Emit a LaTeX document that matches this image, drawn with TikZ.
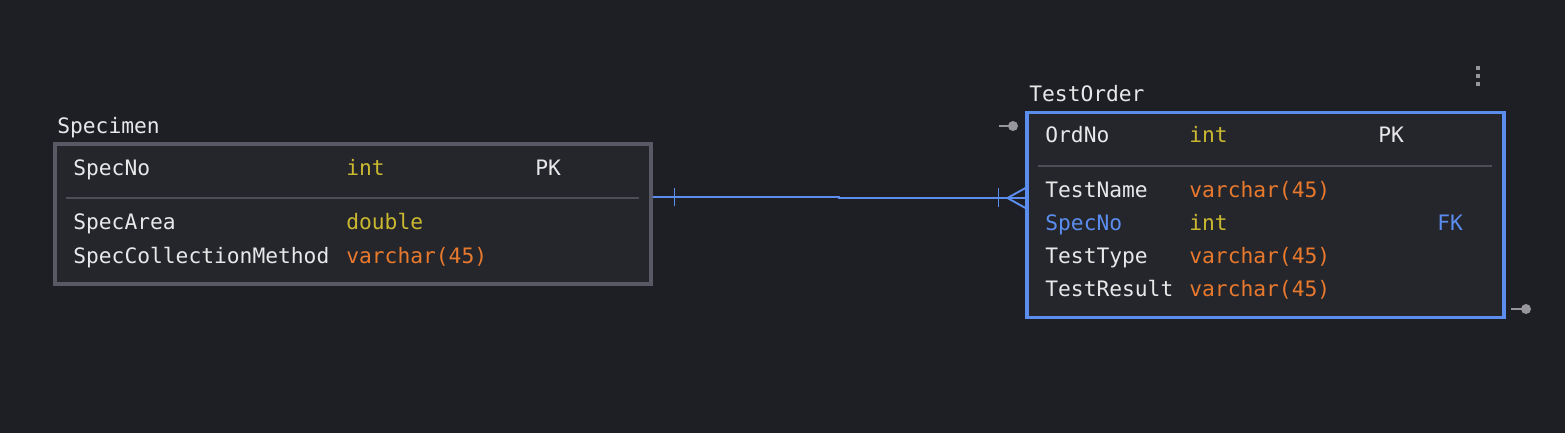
\documentclass[tikz,border=0pt]{standalone}
\usepackage{fontspec}
\setmonofont{DejaVu Sans Mono}
\usetikzlibrary{positioning, calc}
\definecolor{erbg}{RGB}{30,31,36}
\definecolor{erfill}{RGB}{37,38,43}
\definecolor{ergray}{RGB}{88,89,100}
\definecolor{ersep}{RGB}{78,79,86}
\definecolor{erblue}{RGB}{91,141,239}
\definecolor{eryel}{RGB}{201,184,48}
\definecolor{erorg}{RGB}{232,121,45}
\definecolor{erwt}{RGB}{232,232,234}
\definecolor{erhdl}{RGB}{150,150,156}

\begin{document}
\begin{tikzpicture}[x=0.02cm, y=-0.02cm,
    txt/.style={anchor=base west, inner sep=0pt,
      font=\ttfamily\fontsize{12.1}{14}\selectfont, text=erwt},
    tbl/.style={draw=#1, fill=erfill, line width=1.8pt, inner sep=0pt},
    rel/.style={draw=erblue, line width=1.1pt},
    hdl/.style={draw=erhdl, line width=1.1pt}]
  \fill[erbg] (0,0) rectangle (1565,433);
  \useasboundingbox (0,0) rectangle (1565,433);

  % Specimen table
  \node[tbl=ergray, minimum width=11.92cm, minimum height=2.8cm]
    (spec) at (353,214) {};
  \node[txt] (spectitle) at (57,133) {Specimen};
  \draw[ersep, line width=1.1pt] (66,198) -- (639,198);
  \foreach \n/\t/\c/\y in {SpecNo/int/eryel/175, SpecArea/double/eryel/229,
      SpecCollectionMethod/varchar(45)/erorg/263} {
    \node[txt] (sn\y) at (73,\y) {\n};
    \node[txt, text=\c] (st\y) at (346,\y) {\t};
  }
  \node[txt] (spk) at (535,175) {PK};

  % TestOrder table
  \node[tbl=erblue, minimum width=9.54cm, minimum height=4.1cm]
    (ord) at (1265.5,215) {};
  \node[txt] (ordtitle) at (1029,101) {TestOrder};
  \draw[ersep, line width=1.1pt] (1038,166) -- (1492,166);
  \foreach \n/\t/\c/\y in {OrdNo/int/eryel/142, TestName/varchar(45)/erorg/197,
      TestType/varchar(45)/erorg/263, TestResult/varchar(45)/erorg/296} {
    \node[txt] (on\y) at (1045,\y) {\n};
    \node[txt, text=\c] (ot\y) at (1189,\y) {\t};
  }
  \node[txt, text=erblue] (on230) at (1045,230) {SpecNo};
  \node[txt, text=eryel] (ot230) at (1189,230) {int};
  \node[txt] (opk) at (1378,142) {PK};
  \node[txt, text=erblue] (ofk) at (1437,230) {FK};

  % menu dots
  \foreach \y in {68,76,84}
    \fill[erhdl] (1476,\y-2) rectangle (1480,\y+2);

  % handles
  \coordinate (hl) at (999,126);
  \coordinate (hr) at (1511,309);
  \draw[hdl] (hl) -- ++(14,0) node[circle, fill=erhdl, inner sep=0pt,
    minimum size=0.2cm] (hld) {};
  \draw[hdl] (hr) -- ++(15,0) node[circle, fill=erhdl, inner sep=0pt,
    minimum size=0.2cm] (hrd) {};

  % relation Specimen -> TestOrder
  \coordinate (rs) at ([yshift=0.34cm]spec.east);
  \coordinate (re) at ([yshift=0.34cm]ord.west);
  \draw[rel] (rs) -- (839,197) -- (839,198) -- (re);
  \draw[rel] ($(rs)+(22,-9)$) -- ++(0,18);
  \draw[rel] ($(re)+(-27,-10)$) -- ++(0,19);
  \draw[rel] ($(re)+(0,-10)$) -- ($(re)+(-18,0)$) -- ($(re)+(0,10)$);
\end{tikzpicture}
\end{document}
